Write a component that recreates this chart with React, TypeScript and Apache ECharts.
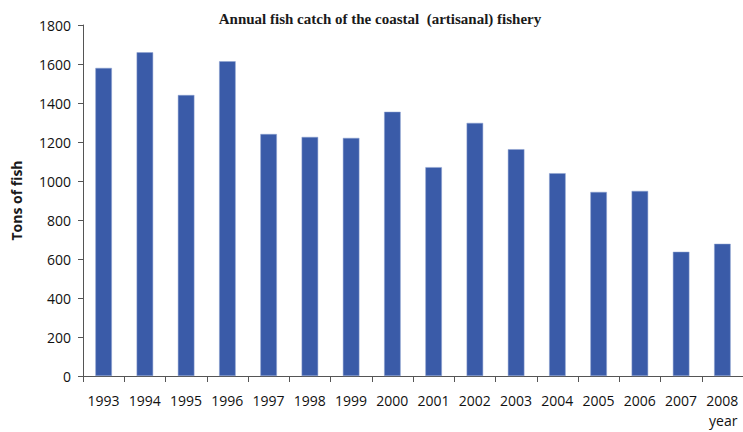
import React, { useEffect, useRef } from "react";
import * as echarts from "echarts";

const years = ["1993","1994","1995","1996","1997","1998","1999","2000","2001","2002","2003","2004","2005","2006","2007","2008"];
const catchTons = [1580, 1660, 1441, 1614, 1241, 1226, 1221, 1355, 1071, 1298, 1163, 1040, 944, 949, 637, 678];
const yTicks = { min: 0, max: 1800, interval: 200 };

export default function App() {
  const ref = useRef<HTMLDivElement>(null);
  useEffect(() => {
    if (!ref.current) return;
    const chart = echarts.init(ref.current, null, { renderer: "svg" });
    const sans = "'Open Sans', 'Liberation Sans', sans-serif";
    chart.setOption({
      animation: false,
      backgroundColor: "#ffffff",
      title: {
        text: "Annual fish catch of the coastal  (artisanal) fishery",
        left: 375,
        textAlign: "center",
        top: 6,
        textStyle: { fontFamily: "'Liberation Serif', serif", fontWeight: "bold", fontSize: 15, color: "#1a1a1a" },
      },
      grid: { left: 83, top: 25, width: 664, bottom: 56 },
      xAxis: {
        type: "category",
        data: years,
        axisLine: { lineStyle: { color: "#555", width: 1 } },
        axisTick: { show: true, alignWithLabel: false, length: 6, lineStyle: { color: "#555" } },
        axisLabel: { fontFamily: sans, fontSize: 14, fontWeight: "normal", color: "#111", margin: 17, interval: 0 },
      },
      yAxis: {
        type: "value",
        min: yTicks.min,
        max: yTicks.max,
        interval: yTicks.interval,
        name: "Tons of fish",
        nameLocation: "middle",
        nameGap: 60,
        nameTextStyle: { fontFamily: sans, fontWeight: "bold", fontSize: 14, color: "#1a1a1a" },
        axisLine: { show: true, lineStyle: { color: "#555", width: 1 } },
        axisTick: { show: true, length: 5, lineStyle: { color: "#555" } },
        splitLine: { show: false },
        axisLabel: { fontFamily: sans, fontSize: 14, fontWeight: "normal", color: "#111", margin: 12, formatter: (v: number) => String(v) },
      },
      graphic: [
        {
          type: "text",
          left: 709,
          top: 413,
          style: { text: "year", font: `14px ${sans}`, fill: "#111" },
        },
      ],
      series: [
        {
          type: "bar",
          data: catchTons,
          barWidth: "40%",
          itemStyle: { color: "#3a5ba8", borderColor: "#8fa3d0", borderWidth: 0.5 },
        },
      ],
    });
    return () => chart.dispose();
  }, []);
  return <div ref={ref} style={{ position: "fixed", left: 0, top: 0, width: 743, height: 432 }} />;
}
